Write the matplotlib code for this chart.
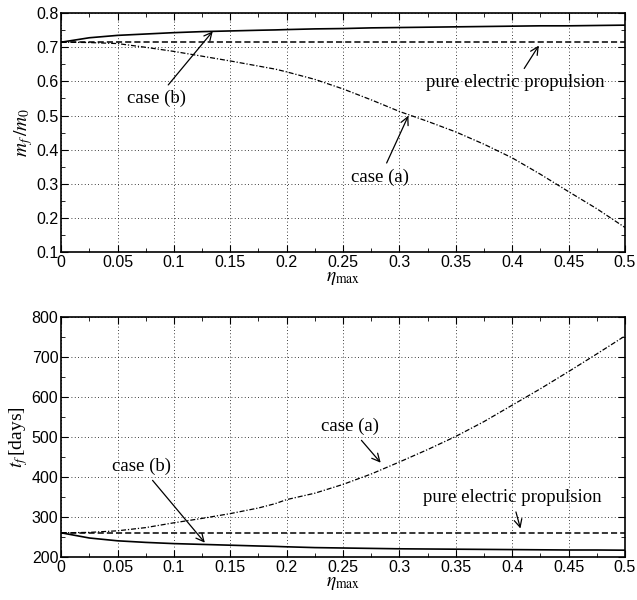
import matplotlib.pyplot as plt
from matplotlib.ticker import MultipleLocator

plt.rcParams['mathtext.fontset'] = 'stix'
plt.rcParams['font.family'] = 'Liberation Sans'

eta = [0, 0.025, 0.05, 0.075, 0.1, 0.125, 0.15, 0.175, 0.19, 0.2, 0.225, 0.25,
       0.275, 0.3, 0.325, 0.35, 0.375, 0.4, 0.425, 0.45, 0.475, 0.5]

# final mass ratio
mf_a = [0.715, 0.714, 0.711, 0.700, 0.688, 0.674, 0.660, 0.645, 0.636, 0.628,
        0.606, 0.578, 0.546, 0.512, 0.483, 0.452, 0.416, 0.376, 0.328, 0.277,
        0.227, 0.172]
mf_b = [0.715, 0.728, 0.735, 0.739, 0.743, 0.746, 0.748, 0.750, 0.751, 0.752,
        0.754, 0.755, 0.757, 0.758, 0.759, 0.760, 0.761, 0.762, 0.763, 0.763,
        0.764, 0.765]
mf_ep = 0.717

# transfer time
tf_a = [260, 261, 265, 273, 285, 296, 308, 322, 333, 343, 359, 381,
        407, 437, 468, 501, 538, 579, 620, 663, 707, 752]
tf_b = [260, 247, 240, 236, 233, 231, 229, 227, 226, 225, 223, 222,
        221, 220, 219.5, 219, 218.5, 218, 217.5, 217, 217, 216.5]
tf_ep = 260

fig = plt.figure(figsize=(6.37, 6.0), dpi=100)
ax1 = fig.add_axes([0.096, 0.58, 0.885, 0.398])
ax2 = fig.add_axes([0.096, 0.072, 0.885, 0.400])

serif = 'Liberation Serif'
arrow = dict(arrowstyle='->', color='black', lw=0.9, mutation_scale=14)

def style(ax, ymin, ymax, ymaj, ymin_step):
    ax.set_xlim(0, 0.5)
    ax.set_ylim(ymin, ymax)
    ax.xaxis.set_major_locator(MultipleLocator(0.05))
    ax.xaxis.set_minor_locator(MultipleLocator(0.025))
    ax.yaxis.set_major_locator(MultipleLocator(ymaj))
    ax.yaxis.set_minor_locator(MultipleLocator(ymin_step))
    ax.tick_params(which='both', direction='in', top=True, right=True, labelsize=11.5)
    ax.tick_params(which='major', length=5, pad=2)
    ax.tick_params(which='minor', length=3)
    ax.grid(True, which='major', linestyle=(0, (1, 3)), color='black', linewidth=0.6)
    for s in ax.spines.values():
        s.set_linewidth(1.2)
    ax.set_xlabel(r'$\eta_{\mathrm{max}}$', fontsize=14, labelpad=0)
    ax.xaxis.set_major_formatter(plt.FuncFormatter(lambda v, p: ('%g' % round(v, 3))))

ax1.plot(eta, mf_b, color='black', lw=1.2)
ax1.plot(eta, mf_a, color='black', lw=0.9, linestyle=(0, (4, 1.5, 1, 1.5)))
ax1.axhline(mf_ep, color='black', lw=1.1, linestyle=(0, (4, 2)))
style(ax1, 0.1, 0.8, 0.1, 0.05)
ax1.yaxis.set_major_formatter(plt.FuncFormatter(lambda v, p: '%g' % round(v, 2)))
ax1.set_ylabel(r'$m_f\,/m_0$', fontsize=14, labelpad=1)
ax1.annotate('case (b)', xy=(0.136, 0.753), xytext=(0.085, 0.55), ha='center', va='center',
             fontsize=13.5, family=serif, arrowprops=arrow)
ax1.annotate('pure electric propulsion', xy=(0.425, 0.712), xytext=(0.403, 0.598),
             ha='center', va='center', fontsize=13.5, family=serif, arrowprops=arrow)
ax1.annotate('case (a)', xy=(0.309, 0.507), xytext=(0.283, 0.32), ha='center', va='center',
             fontsize=13.5, family=serif, arrowprops=arrow)

ax2.plot(eta, tf_b, color='black', lw=1.2)
ax2.plot(eta, tf_a, color='black', lw=0.9, linestyle=(0, (4, 1.5, 1, 1.5)))
ax2.axhline(tf_ep, color='black', lw=1.1, linestyle=(0, (4, 2)))
style(ax2, 200, 800, 100, 50)
ax2.set_ylabel(r'$t_f\,$[days]', fontsize=14, labelpad=1, family=serif)
ax2.annotate('case (b)', xy=(0.129, 230), xytext=(0.071, 425), ha='center', va='center',
             fontsize=13.5, family=serif, arrowprops=arrow)
ax2.annotate('case (a)', xy=(0.285, 430), xytext=(0.256, 525), ha='center', va='center',
             fontsize=13.5, family=serif, arrowprops=arrow)
ax2.annotate('pure electric propulsion', xy=(0.408, 264), xytext=(0.40, 347),
             ha='center', va='center', fontsize=13.5, family=serif, arrowprops=arrow)

fig.savefig('out.png', dpi=100)
